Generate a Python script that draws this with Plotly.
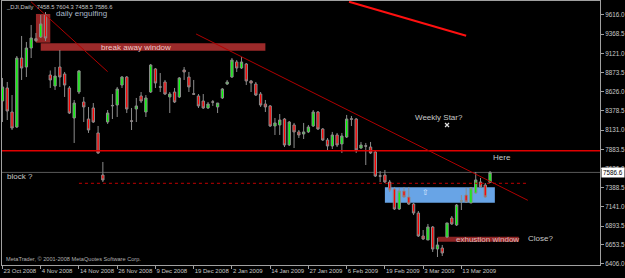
import plotly.graph_objects as go

# ---------------- data ----------------
tick_labels = ['23 Oct 2008', '4 Nov 2008', '14 Nov 2008', '26 Nov 2008', '9 Dec 2008',
               '19 Dec 2008', '2 Jan 2009', '14 Jan 2009', '27 Jan 2009', '6 Feb 2009',
               '19 Feb 2009', '3 Mar 2009', '13 Mar 2009']
tick_every = 8

opens = [8507, 8675, 8365, 8172, 9061, 8945, 9190, 9310, 9332, 9616,
         8842, 8700, 8945, 8855, 8675, 8288, 8623, 8494, 8275, 8417,
         8095, 7553, 8236, 8450, 8455, 8713, 8816, 8252, 8404, 8572,
         8365, 8623, 8920, 8690, 8752, 8559, 8623, 8559, 8907, 8816,
         8600, 8572, 8507, 8417, 8496, 8430, 8546, 8726, 8816, 9010,
         8932, 8984, 8765, 8726, 8597, 8468, 8443, 8185, 8198, 8275,
         7940, 8198, 8108, 8082, 8108, 8185, 8365, 8146, 8004, 7927,
         8069, 7953, 8043, 8278, 8275, 7901, 7930, 7914, 7850, 7543,
         7553, 7463, 7373, 7115, 7347, 7270, 7179, 7063, 6767, 6715,
         6883, 6599, 6612, 6754, 6999, 6909, 7216, 7295, 7192, 7321,
         7463, 7424, 7458.5]
highs = [8804, 8752, 8584, 9087, 9345, 9268, 9487, 9384, 9616, 9654,
         8900, 8945, 9164, 8881, 8700, 8520, 8907, 8559, 8430, 8481,
         8185, 7721, 8391, 8597, 8688, 8829, 8829, 8417, 8546, 8623,
         8584, 8984, 8932, 8868, 8778, 8623, 8675, 8816, 8945, 8881,
         8778, 8597, 8597, 8494, 8520, 8481, 8675, 8778, 9061, 9035,
         9074, 8997, 8778, 8752, 8623, 8520, 8455, 8288, 8339, 8288,
         8249, 8224, 8133, 8224, 8198, 8391, 8378, 8159, 8030, 8108,
         8095, 8095, 8327, 8314, 8288, 7979, 7966, 7979, 7863, 7605,
         7618, 7489, 7399, 7386, 7399, 7399, 7192, 7089, 6844, 6922,
         6896, 6741, 6651, 6935, 7025, 7179, 7295, 7386, 7399, 7592,
         7515, 7450, 7604.3]
lows = [8236, 8262, 8133, 8159, 8778, 8816, 9061, 9268, 9319, 9280,
        8675, 8649, 8688, 8559, 8339, 7966, 8597, 8236, 8095, 8224,
        7824, 7463, 8211, 8275, 8301, 8675, 8352, 8133, 8236, 8481,
        8301, 8610, 8675, 8623, 8584, 8352, 8481, 8546, 8778, 8623,
        8584, 8417, 8404, 8404, 8443, 8352, 8533, 8713, 8804, 8881,
        8920, 8713, 8623, 8572, 8430, 8365, 8172, 8069, 8069, 7914,
        7927, 7901, 8030, 8017, 8095, 8172, 8133, 7991, 7863, 7888,
        7914, 7837, 8030, 8185, 7837, 7888, 7682, 7824, 7527, 7463,
        7450, 7334, 7102, 7102, 7257, 7166, 7037, 6754, 6715, 6715,
        6561, 6496, 6509, 6741, 6909, 6896, 7102, 7192, 7192, 7308,
        7386, 7257, 7458.5]
closes = [8688, 8378, 8159, 9061, 8932, 9190, 9319, 9285, 9500, 9319,
          8778, 8829, 8816, 8713, 8352, 8481, 8894, 8430, 8133, 8236,
          7837, 7489, 8352, 8446, 8662, 8816, 8404, 8246, 8443, 8507,
          8546, 8971, 8739, 8686, 8597, 8597, 8494, 8804, 8881, 8688,
          8595, 8443, 8417, 8468, 8492, 8481, 8662, 8752, 9035, 8932,
          9010, 8765, 8739, 8584, 8455, 8430, 8185, 8224, 8262, 7940,
          8236, 8108, 8069, 8108, 8172, 8365, 8146, 8004, 7927, 8069,
          7940, 8056, 8275, 8272, 7876, 7940, 7925, 7837, 7540, 7538,
          7463, 7360, 7115, 7347, 7270, 7179, 7063, 6767, 6728, 6883,
          6599, 6651, 6548, 6935, 6922, 7166, 7221, 7205, 7386, 7489,
          7399, 7270, 7586.6]

y_tick_values = [9616.0, 9368.5, 9121.0, 8873.5, 8626.0, 8378.5, 8131.0, 7883.5,
                 7636.0, 7388.5, 7141.0, 6893.5, 6653.5, 6406.0]

header_text = '_DJI,Daily  7458.5 7604.3 7458.5 7586.6'
last_price = closes[-1]

bar_index = list(range(len(opens)))
tick_pos = bar_index[::tick_every][:len(tick_labels)]

# ---------------- figure ----------------
fig = go.Figure()
fig.add_trace(go.Candlestick(
    x=bar_index, open=opens, high=highs, low=lows, close=closes,
    increasing=dict(fillcolor='#00ff00', line=dict(color='#8c8c8c', width=1)),
    decreasing=dict(fillcolor='#ff0000', line=dict(color='#8c8c8c', width=1)),
    whiskerwidth=0, hoverinfo='skip', showlegend=False))

# weekly star marker
fig.add_trace(go.Scatter(x=[93], y=[8198], mode='markers',
                         marker=dict(symbol='x-thin', size=4, line=dict(color='#e0e0e0', width=1.2)),
                         hoverinfo='skip', showlegend=False))

shapes = []
# rectangles (behind candles)
shapes.append(dict(type='rect', xref='x', yref='y', x0=7, x1=10, y0=9259, y1=9629,
                   fillcolor='#962626', line=dict(width=0), layer='below'))
shapes.append(dict(type='rect', xref='x', yref='y', x0=8, x1=55, y0=9156, y1=9251,
                   fillcolor='#9c2a2a', line=dict(width=0), layer='below'))
shapes.append(dict(type='rect', xref='x', yref='y', x0=80, x1=103, y0=7196, y1=7395,
                   fillcolor='#68a4e6', line=dict(width=0), layer='below'))
shapes.append(dict(type='rect', xref='x', yref='y', x0=91, x1=108, y0=6693, y1=6758,
                   fillcolor='#8e2424', line=dict(width=0), layer='below'))
# horizontal lines
shapes.append(dict(type='line', xref='paper', yref='y', x0=0, x1=1, y0=last_price, y1=last_price,
                   line=dict(color='#5a5a5a', width=1), layer='below'))
shapes.append(dict(type='line', xref='paper', yref='y', x0=0, x1=1, y0=7866, y1=7866,
                   line=dict(color='#e00000', width=1.5)))
shapes.append(dict(type='line', xref='x', yref='y', x0=16, x1=110, y0=7446, y1=7446,
                   line=dict(color='#c00000', width=1, dash='dot')))
# trend lines
shapes.append(dict(type='line', xref='x', yref='y', x0=5.96, x1=22.0, y0=9787, y1=8885,
                   line=dict(color='#b00000', width=1)))
shapes.append(dict(type='line', xref='x', yref='y', x0=40.5, x1=109.9, y0=9371, y1=7227,
                   line=dict(color='#b00000', width=1)))
shapes.append(dict(type='line', xref='x', yref='y', x0=72.5, x1=97.0, y0=9787, y1=9349,
                   line=dict(color='#ff1010', width=2)))

ann_font = 'Liberation Sans'
annotations = [
    dict(x=10.8, y=9635, text='daily engulfing', font=dict(color='#a8b8c8', size=8)),
    dict(x=20.1, y=9203, text='break away window', font=dict(color='#ecc8c8', size=8)),
    dict(x=85.9, y=8295, text='Weekly Star?', font=dict(color='#c8c8c8', size=8)),
    dict(x=102.2, y=7785, text='Here', font=dict(color='#c8c8c8', size=8)),
    dict(x=0.5, y=7531, text='block ?', font=dict(color='#c8c8c8', size=8)),
    dict(x=94.5, y=6728, text='exhustion window', font=dict(color='#e0b8b8', size=8)),
    dict(x=109.5, y=6735, text='Close?', font=dict(color='#c8c8c8', size=8)),
    dict(x=87.3, y=7334, text='⇧', font=dict(color='#dce8ff', size=8)),
]
for a in annotations:
    a.update(xref='x', yref='y', xanchor='left', yanchor='middle', showarrow=False)
    a['font']['family'] = ann_font

annotations.append(dict(xref='paper', yref='paper', x=0.003, y=0.998, xanchor='left', yanchor='top',
                        text=header_text, showarrow=False,
                        font=dict(family=ann_font, size=5.8, color='#c8c8c8')))
annotations.append(dict(xref='paper', yref='paper', x=0.003, y=0.003, xanchor='left', yanchor='bottom',
                        text='MetaTrader, © 2001-2008 MetaQuotes Software Corp.', showarrow=False,
                        font=dict(family=ann_font, size=5.6, color='#b0b0b0')))
annotations.append(dict(xref='paper', yref='y', x=1.002, y=last_price, xanchor='left', yanchor='middle',
                        text='%.1f' % last_price, showarrow=False, bgcolor='#ffffff', borderpad=1,
                        font=dict(family=ann_font, size=6.3, color='#000000')))

fig.update_layout(
    width=625, height=278, margin=dict(l=2, r=25, t=1, b=13),
    paper_bgcolor='#000000', plot_bgcolor='#000000', showlegend=False,
    shapes=shapes, annotations=annotations)

fig.update_xaxes(range=[-0.1, 125.0], showgrid=False, zeroline=False,
                 showline=True, mirror=True, linecolor='#a0a0a0', linewidth=1,
                 tickmode='array', tickvals=tick_pos, ticktext=tick_labels,
                 ticks='outside', ticklen=3, tickcolor='#a0a0a0', tickangle=0,
                 ticklabelposition='outside right',
                 tickfont=dict(family=ann_font, size=6, color='#c8c8c8'),
                 rangeslider=dict(visible=False), fixedrange=True)
fig.update_yaxes(range=[6393, 9796], side='right', showgrid=False, zeroline=False,
                 showline=True, mirror=True, linecolor='#a0a0a0', linewidth=1,
                 tickmode='array', tickvals=y_tick_values,
                 ticktext=['%.1f' % v for v in y_tick_values],
                 ticks='outside', ticklen=3, tickcolor='#a0a0a0',
                 tickfont=dict(family=ann_font, size=6.3, color='#c8c8c8'), fixedrange=True)

fig.write_html('out.html')
